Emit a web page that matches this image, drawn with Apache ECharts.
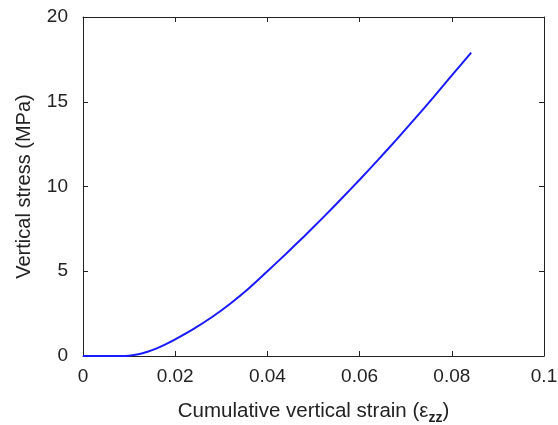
<!DOCTYPE html>
<html>
<head>
<meta charset="utf-8">
<script src="https://cdn.jsdelivr.net/npm/echarts@6/dist/echarts.min.js"></script>
<style>html,body{margin:0;padding:0;background:#fff;}#c{width:558px;height:425px;}</style>
</head>
<body>
<div id="c"></div>
<script>
var strain = [0, 0.004, 0.008, 0.010, 0.012, 0.014, 0.016, 0.018, 0.020, 0.024, 0.028, 0.032, 0.036, 0.040, 0.044, 0.048, 0.052, 0.056, 0.060, 0.064, 0.068, 0.072, 0.076, 0.080, 0.0842];
var stress = [0, 0, 0, 0.02, 0.1, 0.25, 0.45, 0.7, 0.98, 1.6, 2.3, 3.1, 4.0, 5.0, 6.02, 7.07, 8.15, 9.26, 10.4, 11.57, 12.77, 14.0, 15.26, 16.55, 17.9];
var xTickLabels = ['0', '0.02', '0.04', '0.06', '0.08', '0.1'];
var yTickLabels = ['0', '5', '10', '15', '20'];

var data = strain.map(function (x, i) { return [x, stress[i]]; });
var font = 'Liberation Sans, Arial, sans-serif';
var frame = { show: true, onZero: false, lineStyle: { color: '#222', width: 1 } };
var tick = { show: true, inside: true, length: 5, lineStyle: { color: '#222' } };

var chart = echarts.init(document.getElementById('c'));
chart.setOption({
  animation: false,
  grid: { left: 83, right: 14, top: 17, bottom: 69, containLabel: false, outerBoundsMode: 'none' },
  xAxis: [{
    type: 'value', min: 0, max: 0.1, interval: 0.02,
    axisLine: frame, axisTick: tick, splitLine: { show: false },
    axisLabel: { color: '#222', fontSize: 19, fontFamily: font, margin: 11,
      formatter: function (v) { return xTickLabels[Math.round(v / 0.02)]; } },
    name: '{a|Cumulative vertical strain (ε}{s|zz}{a|)}',
    nameLocation: 'middle', nameGap: 41,
    nameTextStyle: { rich: {
      a: { fontSize: 20.5, fontFamily: font, color: '#222' },
      s: { fontSize: 14, fontFamily: font, color: '#222', fontWeight: 'bold', padding: [14, 0, 0, 0] }
    } }
  }, {
    type: 'value', position: 'top', min: 0, max: 0.1, interval: 0.02,
    axisLine: frame, axisTick: tick, axisLabel: { show: false }, splitLine: { show: false }
  }],
  yAxis: [{
    type: 'value', min: 0, max: 20, interval: 5,
    axisLine: frame, axisTick: tick, splitLine: { show: false },
    axisLabel: { color: '#222', fontSize: 19, fontFamily: font, margin: 15,
      formatter: function (v) { return yTickLabels[Math.round(v / 5)]; } },
    name: 'Vertical stress (MPa)', nameLocation: 'middle', nameGap: 49,
    nameTextStyle: { fontSize: 20, fontFamily: font, color: '#222' }
  }, {
    type: 'value', position: 'right', min: 0, max: 20, interval: 5,
    axisLine: frame, axisTick: tick, axisLabel: { show: false }, splitLine: { show: false }
  }],
  series: [{
    type: 'line', data: data, showSymbol: false, smooth: 0.3,
    lineStyle: { color: '#1a1aff', width: 2 }, xAxisIndex: 0, yAxisIndex: 0
  }]
});
</script>
</body>
</html>
